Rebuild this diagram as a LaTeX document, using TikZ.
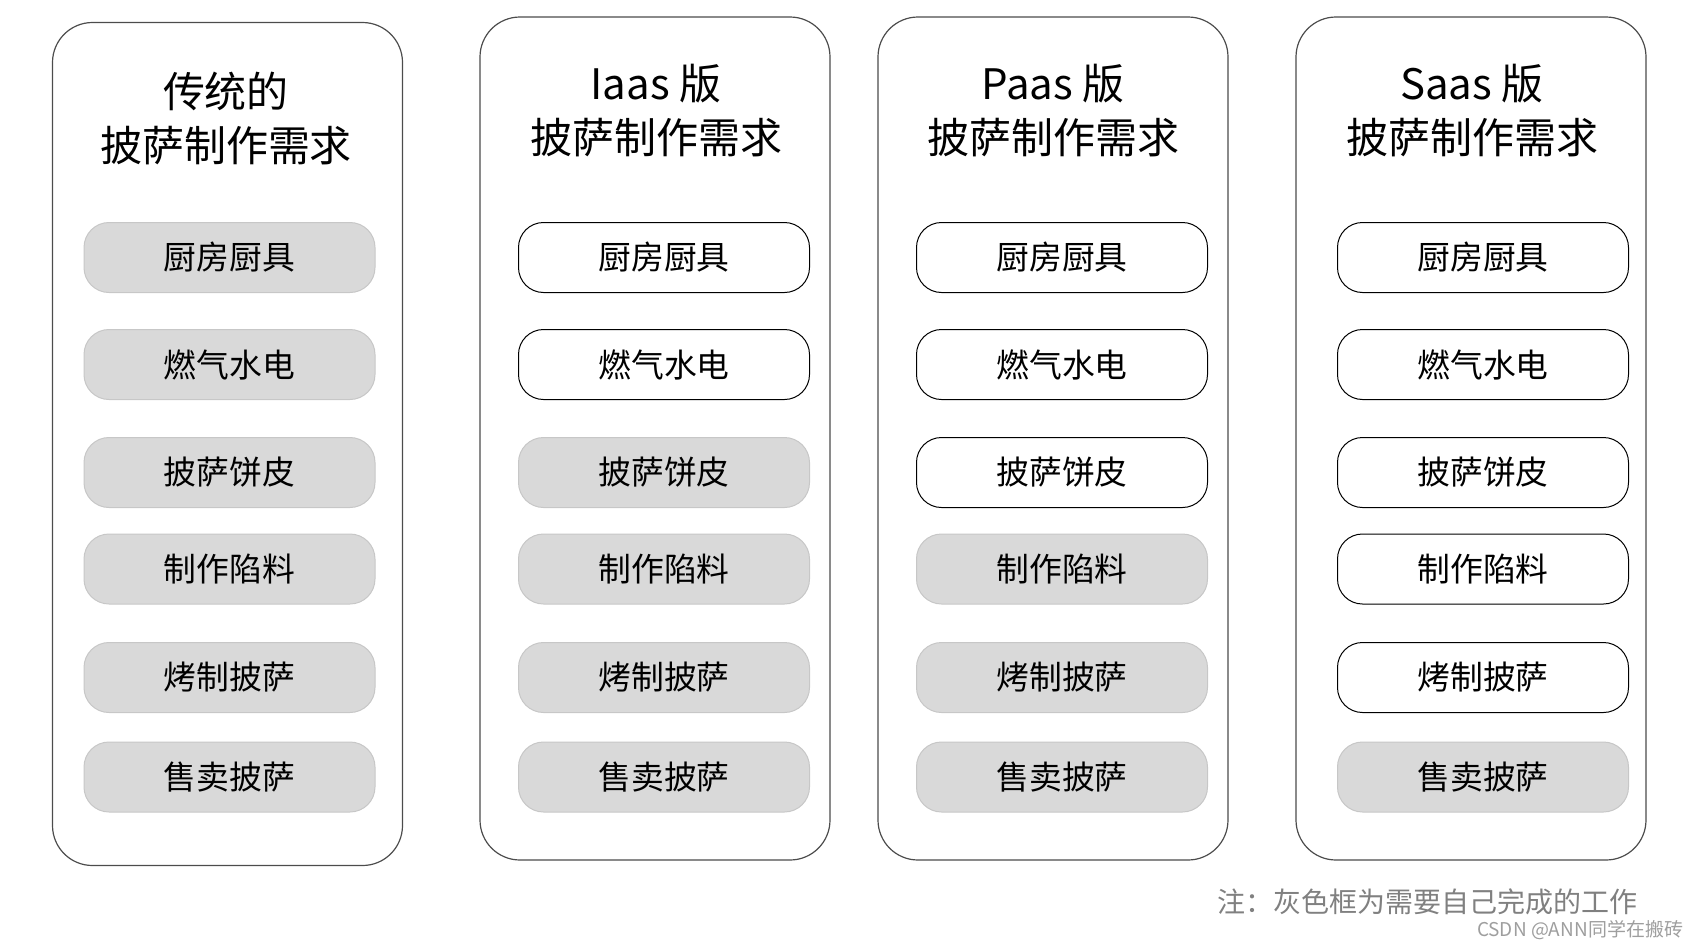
\documentclass[tikz,border=0pt]{standalone}
\usepackage{fontspec}
\setmainfont{Noto Sans CJK SC}
\usetikzlibrary{positioning}

\begin{document}
\begin{tikzpicture}[x=0.5pt, y=-0.5pt,
     box/.style = {rectangle, draw=black!70, line width=0.6pt,% outer frame of a column
                   rounded corners=20pt, minimum width=175pt, minimum height=421.5pt},
    head/.style = {inner sep=0pt, align=center, font=\fontsize{21}{27}\selectfont},
    todo/.style = {rectangle, draw=black!22, fill=black!15, line width=0.5pt,% grey: own work
                   rounded corners=12.5pt, minimum width=145.5pt, minimum height=35pt,
                   font=\fontsize{16.4}{20}\selectfont},
    done/.style = {todo, draw=black, fill=white},% white: given
    cell/.code 2 args = {\ifnum#1>#2\relax\pgfkeysalso{todo}\else\pgfkeysalso{done}\fi},
    note/.style = {inner sep=0pt, text=black!50, font=\fontsize{14}{16}\selectfont},
      wm/.style = {inner sep=0pt, text=black!38, font=\fontsize{9.5}{11}\selectfont},
                        ]
\useasboundingbox (0,0) rectangle (1699,948);
% columns
\node[box] (c1) at (227.5,444)  {};
\node[box] (c2) at (655,438.5)  {};
\node[box] (c3) at (1053,438.5) {};
\node[box] (c4) at (1471,438.5) {};
\node[head] (t1) at (226,118)  {传统的\\披萨制作需求};
\node[head] (t2) at (656,111)  {Iaas 版\\披萨制作需求};
\node[head] (t3) at (1053,111) {Paas 版\\披萨制作需求};
\node[head] (t4) at (1472,111) {Saas 版\\披萨制作需求};
% steps, the first \w of them are white
\foreach \c/\x/\w in {1/229.5/0, 2/664/2, 3/1062/3, 4/1483/5}
  \foreach \r/\y/\t in {1/257.5/厨房厨具, 2/364.5/燃气水电, 3/472.5/披萨饼皮,
                        4/569/制作陷料, 5/677.5/烤制披萨, 6/777/售卖披萨}% <-- content of nodes
    \node[cell={\r}{\w}] (p\c-\r) at (\x,\y) {\t};
\node[note] (n) at (1427,902) {注：灰色框为需要自己完成的工作};
\node[wm] (w) at (1580,930) {CSDN @ANN同学在搬砖};
\end{tikzpicture}
\end{document}
